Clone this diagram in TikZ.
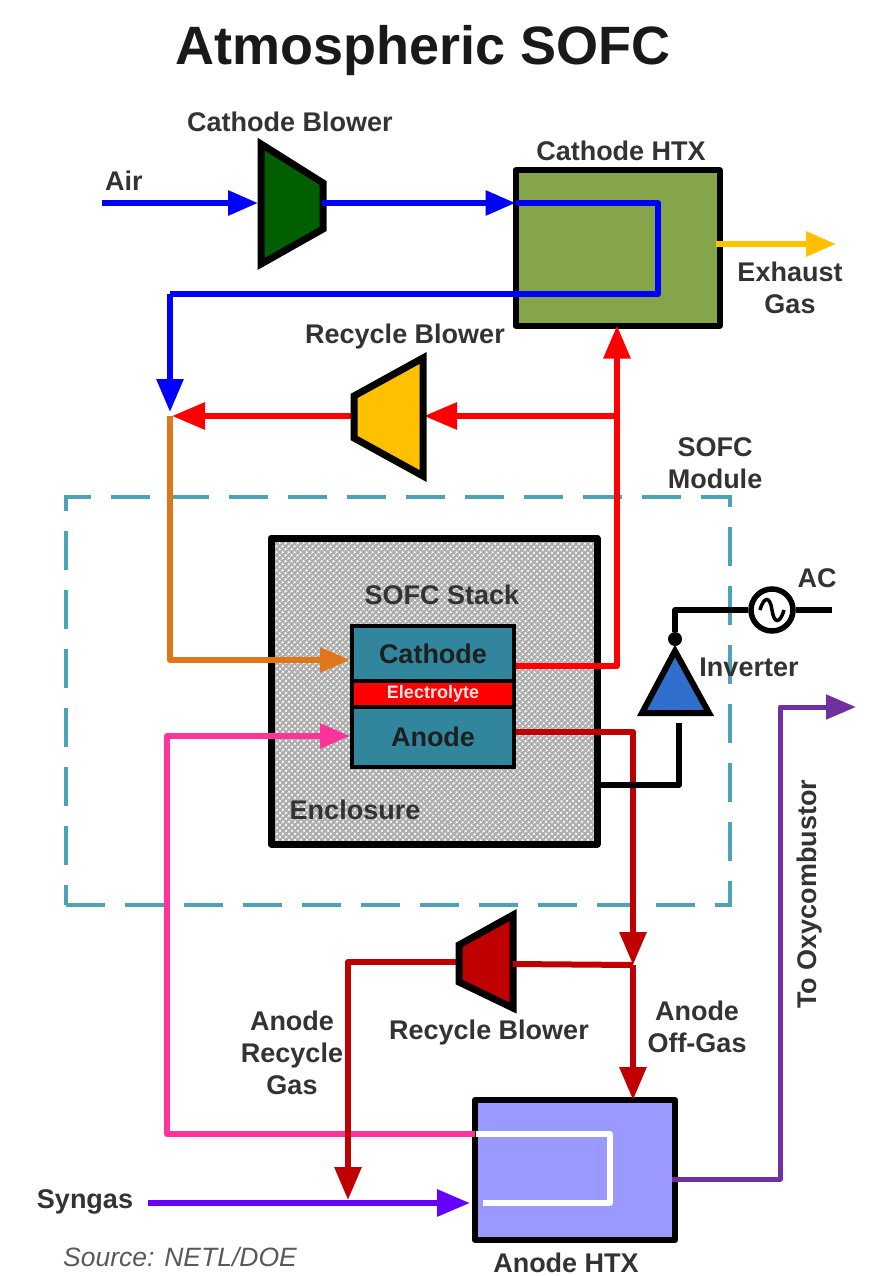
\documentclass[tikz,border=0pt]{standalone}
\usepackage{fontspec}
\setmainfont{Liberation Sans}
\usetikzlibrary{arrows.meta,patterns.meta}
\definecolor{txt}{HTML}{333333}
\definecolor{cblue}{HTML}{0000FF}
\definecolor{cred}{HTML}{FF0000}
\definecolor{dred}{HTML}{C00000}
\definecolor{corange}{HTML}{E0761A}
\definecolor{cpink}{HTML}{FF3399}
\definecolor{cviolet}{HTML}{6600FF}
\definecolor{cpurple}{HTML}{7030A0}
\definecolor{cyellow}{HTML}{FFC000}
\definecolor{cteal}{HTML}{31859C}
\definecolor{cdash}{HTML}{4BA3B5}
\tikzset{
  x=1pt,y=-1pt,
  boxnode/.style={draw=black,line width=6pt,inner sep=0pt,outer sep=0pt,line join=round},
  cellnode/.style={draw=black,line width=4pt,inner sep=0pt,font=\fontsize{27}{28}\selectfont\bfseries,text=black!88},
  lbl/.style={font=\fontsize{27}{32}\selectfont\bfseries,text=txt,align=center,inner sep=0pt},
  blower/.style={draw=black,line width=7pt,line join=miter},
  flow/.style={line width=6pt,line join=round},
  tip/.style={-{Triangle[length=33pt,width=26pt]}},
  smalltip/.style={-{Triangle[length=30pt,width=24pt]}},
  wire/.style={draw=black,line width=5.5pt,line join=round}
}
\begin{document}
\begin{tikzpicture}
\useasboundingbox (0,0) rectangle (880,1276);

% title
\node[font=\fontsize{54}{56}\selectfont\bfseries,text=black!90,inner sep=0pt] (title) at (423,51) {Atmospheric SOFC};

% module boundary
\node[draw=cdash,line width=4pt,dash pattern=on 39pt off 20pt,minimum width=664pt,minimum height=408pt,inner sep=0pt] (module) at (397.5,701) {};

% enclosure
\node[boxnode,line width=7pt,preaction={fill=black!32},pattern={Dots[distance=4pt,radius=1.4pt,angle=45]},pattern color=white,minimum width=326pt,minimum height=306pt] (enclosure) at (434,691) {};

% stack
\node[cellnode,fill=cteal,minimum width=162pt,minimum height=56pt] (cathode) at (433,654) {Cathode};
\node[cellnode,fill=cteal,minimum width=162pt,minimum height=60pt] (anode) at (433,737) {Anode};
\node[cellnode,fill=cred,minimum width=162pt,minimum height=26pt,font=\fontsize{18}{20}\selectfont\bfseries,text=white!90!red] (electrolyte) at (433,694) {Electrolyte};

% heat exchangers
\node[boxnode,fill={rgb,255:red,132;green,165;blue,74},minimum width=204pt,minimum height=155pt] (chtx) at (617.5,248) {};
\node[boxnode,fill={rgb,255:red,153;green,153;blue,255},minimum width=200pt,minimum height=140pt] (ahtx) at (575,1170) {};

% blowers
\coordinate (cb1) at (261,144); \coordinate (cb2) at (323,183); \coordinate (cb3) at (323,229); \coordinate (cb4) at (261,264);
\coordinate (cbin) at (258,203); \coordinate (cbout) at (322,203);
\coordinate (rb1) at (423,358); \coordinate (rb2) at (354,396); \coordinate (rb3) at (354,438); \coordinate (rb4) at (423,476);
\coordinate (rbin) at (424,416); \coordinate (rbout) at (354,416);
\coordinate (ab1) at (513,915); \coordinate (ab2) at (459,945); \coordinate (ab3) at (459,982); \coordinate (ab4) at (513,1008);
\coordinate (abin) at (513,964); \coordinate (about) at (459,962);

% junctions and bends
\coordinate (airstart) at (102,203);
\coordinate (mix) at (170,416);
\coordinate (b1) at (658,203); \coordinate (b2) at (658,294); \coordinate (b3) at (170,294);
\coordinate (rsplit) at (617,416); \coordinate (rbend) at (617,666);
\coordinate (ocorner) at (170,660);
\coordinate (pcorner1) at (167,1134); \coordinate (pcorner2) at (167,736);
\coordinate (asplit) at (633,965); \coordinate (abend) at (633,732);
\coordinate (acorner) at (348,962); \coordinate (syngasin) at (348,1203);
\coordinate (synstart) at (148,1203);
\coordinate (w1) at (610,1134); \coordinate (w2) at (610,1203); \coordinate (w3) at (483,1203); \coordinate (w0) at (476,1134);
\coordinate (pu1) at (780,1179); \coordinate (pu2) at (780,707); \coordinate (pu3) at (856,707); \coordinate (pu0) at (672,1179);
\coordinate (exout) at (836,244); \coordinate (exin) at (716,244);

% flows
\draw[flow,cpink,smalltip] (ahtx.west |- pcorner1) -- (pcorner1) -- (pcorner2) -- (anode.west |- pcorner2);
\draw[flow,corange,smalltip] (mix) -- (ocorner) -- (cathode.west |- ocorner);
\draw[flow,cblue,smalltip] (airstart) -- (cbin);
\draw[flow,cblue,smalltip] (cbout) -- (cbout -| chtx.west);
\draw[flow,cblue] (cbout -| chtx.west) -- (b1) -- (b2) -- (b3);
\draw[flow,cblue,tip] (b3) -- (170,412);
\draw[flow,cred,tip] (rsplit) -- (rbin);
\draw[flow,cred,tip] (rbout) -- (172,416);
\draw[flow,cred] (cathode.east |- rbend) -- (rbend) -- (rsplit);
\draw[flow,cred,tip] (rsplit) -- (rsplit |- chtx.south);
\draw[flow,cyellow,smalltip] (exin) -- (exout);
\draw[flow,dred,tip] (anode.east |- abend) -- (abend) -- (asplit);
\draw[flow,dred,tip] (asplit) -- (asplit |- ahtx.north);
\draw[flow,dred] (asplit) -- (abin);
\draw[flow,dred,tip] (about) -- (acorner) -- (348,1200);
\draw[flow,cviolet,tip] (synstart) -- (470,1203);
\draw[flow,white] (w0) -- (w1) -- (w2) -- (w3);
\draw[flow,line width=5pt,cpurple,smalltip] (pu0) -- (pu1) -- (pu2) -- (pu3);

% blower bodies
\draw[blower,fill={rgb,255:red,0;green,96;blue,0}] (cb1) -- (cb2) -- (cb3) -- (cb4) -- cycle;
\draw[blower,fill=cyellow] (rb1) -- (rb2) -- (rb3) -- (rb4) -- cycle;
\draw[blower,fill=dred] (ab1) -- (ab2) -- (ab3) -- (ab4) -- cycle;
\draw[flow,cblue] (cbout) -- +(6,0);
\draw[flow,dred] (abin) -- +(6,0);

% inverter
\coordinate (it) at (675,651); \coordinate (il) at (642,713); \coordinate (ir) at (709,713);
\draw[draw=black,line width=6pt,fill={rgb,255:red,48;green,112;blue,204},line join=miter] (it) -- (il) -- (ir) -- cycle;
\node[fill=black,circle,minimum size=14pt,inner sep=0pt] (idot) at (675,639) {};
\node[draw=black,line width=5.5pt,circle,minimum size=42pt,inner sep=0pt] (acs) at (772,610) {};
\coordinate (ib) at (675,610);
\coordinate (acend) at (832,610);
\coordinate (ic) at (679,785);
\coordinate (itop) at (679,723);
\draw[wire] (idot) -- (ib) -- (acs.west);
\draw[wire] (acs.east) -- (acend);
\draw[wire] (enclosure.east |- ic) -- (ic) -- (itop);
\draw[black,line width=3.5pt] (760,610) .. controls (764,596) and (770,596) .. (772,610) .. controls (774,624) and (780,624) .. (784,610);

% labels
\node[lbl] (lair) at (124,181) {Air};
\node[lbl] (lcb) at (290,122) {Cathode Blower};
\node[lbl] (lchtx) at (621,151) {Cathode HTX};
\node[lbl] (lex) at (790,288) {Exhaust\\Gas};
\node[lbl] (lrb) at (405,337) {Recycle Blower};
\node[lbl] (lmod) at (715,463) {SOFC\\Module};
\node[lbl] (lstack) at (442,595) {SOFC Stack};
\node[lbl] (lenc) at (355,810) {Enclosure};
\node[lbl] (lac) at (817,578) {AC};
\node[lbl] (linv) at (749,667) {Inverter};
\node[lbl,rotate=90] (loxy) at (810,894) {To Oxycombustor};
\node[lbl] (lrb2) at (489,1033) {Recycle Blower};
\node[lbl] (loff) at (697,1027) {Anode\\Off-Gas};
\node[lbl] (lrec) at (292,1053) {Anode\\Recycle\\Gas};
\node[lbl] (lsyn) at (85,1202) {Syngas};
\node[font=\fontsize{26.5}{28}\selectfont\itshape,text=black!65,inner sep=0pt] (lsrc) at (180,1257) {Source: NETL/DOE};
\node[lbl] (lahtx) at (566,1263) {Anode HTX};
\end{tikzpicture}
\end{document}
